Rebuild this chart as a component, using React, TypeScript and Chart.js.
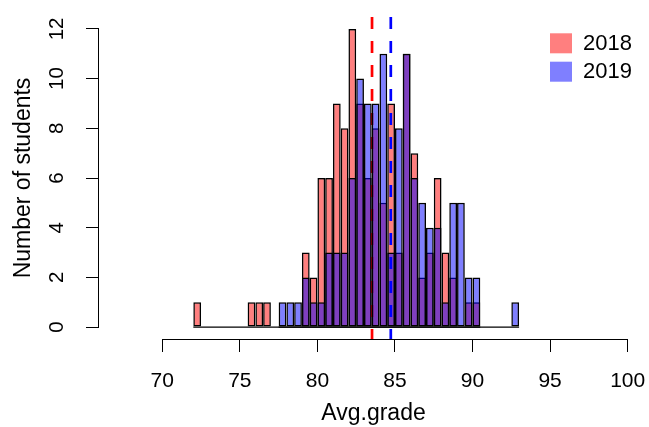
import React, { useEffect, useRef } from 'react';
import { Chart, registerables } from 'chart.js';

Chart.register(...registerables);

// ---- data ----
const seriesLabels = ['2018', '2019'];
const binWidth = 0.5;

const binStarts2018 = [
  72.0, 72.5, 73.0, 73.5, 74.0, 74.5, 75.0, 75.5, 76.0, 76.5, 77.0, 77.5, 78.0,
  78.5, 79.0, 79.5, 80.0, 80.5, 81.0, 81.5, 82.0, 82.5, 83.0, 83.5, 84.0, 84.5,
  85.0, 85.5, 86.0, 86.5, 87.0, 87.5, 88.0, 88.5, 89.0, 89.5, 90.0,
];
const counts2018 = [
  1, 0, 0, 0, 0, 0, 0, 1, 1, 1, 0, 0, 0,
  0, 3, 2, 6, 6, 9, 8, 12, 9, 6, 8, 5, 9,
  3, 11, 7, 2, 3, 6, 3, 2, 0, 1, 1,
];

const binStarts2019 = [
  77.5, 78.0, 78.5, 79.0, 79.5, 80.0, 80.5, 81.0, 81.5, 82.0, 82.5, 83.0, 83.5,
  84.0, 84.5, 85.0, 85.5, 86.0, 86.5, 87.0, 87.5, 88.0, 88.5, 89.0, 89.5, 90.0,
  90.5, 91.0, 91.5, 92.0, 92.5,
];
const counts2019 = [
  1, 1, 1, 2, 1, 1, 3, 3, 3, 6, 10, 9, 9,
  11, 3, 8, 11, 6, 5, 4, 4, 1, 5, 5, 2, 2,
  0, 0, 0, 0, 1,
];

const mean2018 = 83.52;
const mean2019 = 84.73;

const xTicks = [70, 75, 80, 85, 90, 95, 100];
const yTicks = [0, 2, 4, 6, 8, 10, 12];

const xTitle = 'Avg.grade';
const yTitle = 'Number of students';

// ---- style ----
const FONT = "'Liberation Sans', Arial, Helvetica, sans-serif";
const RED_FILL = 'rgba(255,0,0,0.5)';
const BLUE_FILL = 'rgba(0,0,255,0.5)';
const X_MIN = 65.92;
const X_MAX = 101.31;
const Y_MIN = -0.48;
const Y_MAX = 12.48;

const toBars = (starts: number[], counts: number[]) =>
  starts.map((s, i) => ({ x: s + binWidth / 2, y: counts[i] }));

const axesPlugin = {
  id: 'rAxes',
  afterDraw(chart: any) {
    const { ctx, chartArea: ca, scales } = chart;
    const x = scales.x;
    const y = scales.y;
    ctx.save();
    ctx.strokeStyle = '#000';
    ctx.lineWidth = 1;
    ctx.beginPath();
    const ax = Math.round(ca.left) - 0.5;
    ctx.moveTo(ax, y.getPixelForValue(yTicks[0]));
    ctx.lineTo(ax, y.getPixelForValue(yTicks[yTicks.length - 1]));
    const ay = Math.round(ca.bottom) + 0.5;
    ctx.moveTo(x.getPixelForValue(xTicks[0]), ay);
    ctx.lineTo(x.getPixelForValue(xTicks[xTicks.length - 1]), ay);
    ctx.stroke();
    ctx.restore();
  },
};

const legendPlugin = {
  id: 'rLegend',
  afterDraw(chart: any) {
    const { ctx, chartArea: ca } = chart;
    ctx.save();
    seriesLabels.forEach((lab, i) => {
      const d = chart.data.datasets.find((ds: any) => ds.isHist && ds.label === lab);
      if (!d) return;
      const top = ca.top + 16.3 + i * 28.4;
      const left = ca.right - 98;
      ctx.fillStyle = d.backgroundColor;
      ctx.fillRect(left, top, 22, 20);
      ctx.fillStyle = '#000';
      ctx.font = `22px ${FONT}`;
      ctx.textAlign = 'left';
      ctx.textBaseline = 'middle';
      ctx.fillText(d.label, left + 33, top + 10.5);
    });
    ctx.restore();
  },
};

const barStyle = {
  type: 'bar',
  borderColor: '#000',
  borderWidth: 1.5,
  borderSkipped: false,
  inflateAmount: 0,
  barPercentage: 1,
  categoryPercentage: 1,
  grouped: false,
  isHist: true,
};

export default function App() {
  const ref = useRef<HTMLCanvasElement | null>(null);

  useEffect(() => {
    document.body.style.margin = '0';
    if (!ref.current) return;
    const meanLine = (label: string, m: number, color: string, order: number) => ({
      type: 'line',
      label,
      data: [
        { x: m, y: Y_MAX },
        { x: m, y: Y_MIN },
      ],
      borderColor: color,
      borderWidth: 2.7,
      borderDash: [12, 12],
      pointRadius: 0,
      fill: false,
      order,
    });
    const baseLine = (label: string, starts: number[], order: number) => ({
      type: 'line',
      label,
      data: [
        { x: starts[0], y: 0 },
        { x: starts[starts.length - 1] + binWidth, y: 0 },
      ],
      borderColor: '#000',
      borderWidth: 1.2,
      pointRadius: 0,
      fill: false,
      order,
    });
    // Drawing order (as in the R script): hist 2018, mean 2018, hist 2019, mean 2019
    const chart = new Chart(ref.current, {
      type: 'bar',
      data: {
        datasets: [
          meanLine('mean 2019', mean2019, '#0000FF', 1),
          baseLine('base 2019', binStarts2019, 2),
          {
            ...barStyle,
            label: seriesLabels[1],
            data: toBars(binStarts2019, counts2019),
            backgroundColor: BLUE_FILL,
            order: 3,
          },
          meanLine('mean 2018', mean2018, '#FF0000', 4),
          baseLine('base 2018', binStarts2018, 5),
          {
            ...barStyle,
            label: seriesLabels[0],
            data: toBars(binStarts2018, counts2018),
            backgroundColor: RED_FILL,
            order: 6,
          },
        ] as any,
      },
      options: {
        responsive: false,
        animation: false,
        devicePixelRatio: 1,
        layout: { padding: { top: 17, right: 1, left: 0, bottom: 0 } },
        plugins: {
          legend: { display: false },
          tooltip: { enabled: false },
          title: { display: false },
        },
        scales: {
          x: {
            type: 'linear',
            min: X_MIN,
            max: X_MAX,
            offset: false,
            afterBuildTicks: (s: any) => {
              s.ticks = xTicks.map((v) => ({ value: v }));
            },
            afterFit: (s: any) => {
              s.height = 88;
              s.paddingLeft = 0;
              s.paddingRight = 0;
              s.paddingTop = 0;
              s.paddingBottom = 0;
            },
            grid: {
              display: true,
              offset: false,
              drawOnChartArea: false,
              drawTicks: true,
              tickLength: 13,
              color: '#000',
              lineWidth: 1,
            },
            border: { display: false },
            ticks: {
              color: '#000',
              font: { family: FONT, size: 21 },
              padding: 17,
              maxRotation: 0,
              minRotation: 0,
              autoSkip: false,
              callback: (v: any) => String(v),
            },
            title: {
              display: true,
              text: xTitle,
              color: '#000',
              font: { family: FONT, size: 23 },
              padding: { top: 0, bottom: 0 },
            },
          },
          y: {
            type: 'linear',
            min: Y_MIN,
            max: Y_MAX,
            afterBuildTicks: (s: any) => {
              s.ticks = yTicks.map((v) => ({ value: v }));
            },
            afterFit: (s: any) => {
              s.width = 99;
              s.paddingLeft = 0;
              s.paddingRight = 0;
              s.paddingTop = 0;
              s.paddingBottom = 0;
            },
            grid: {
              display: true,
              drawOnChartArea: false,
              drawTicks: true,
              tickLength: 13,
              color: '#000',
              lineWidth: 1,
            },
            border: { display: false },
            ticks: {
              color: '#000',
              font: { family: FONT, size: 20.5 },
              padding: 17,
              minRotation: 90,
              maxRotation: 90,
              crossAlign: 'center',
              autoSkip: false,
              callback: (v: any) => String(v),
            },
            title: {
              display: true,
              text: yTitle,
              color: '#000',
              font: { family: FONT, size: 23 },
              padding: { top: 10, bottom: 0 },
            },
          },
        },
      } as any,
      plugins: [axesPlugin, legendPlugin],
    });
    return () => chart.destroy();
  }, []);

  return (
    <div style={{ position: 'absolute', left: 0, top: 0, width: 649, height: 427 }}>
      <canvas ref={ref} width={649} height={427} />
    </div>
  );
}
